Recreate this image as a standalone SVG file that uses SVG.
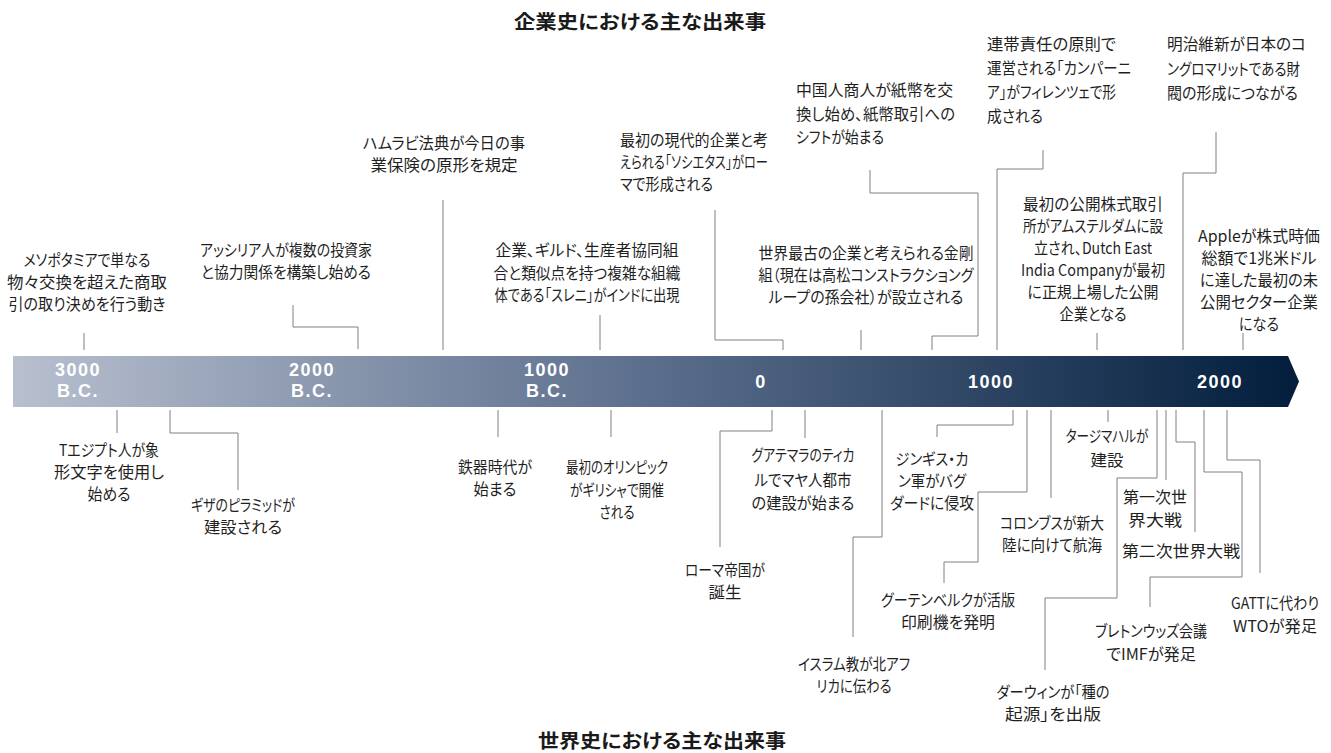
<svg xmlns="http://www.w3.org/2000/svg" width="1331" height="753" viewBox="0 0 1331 753">
<defs>
<linearGradient id="barGrad" gradientUnits="userSpaceOnUse" x1="13" y1="0" x2="1299" y2="0">
<stop offset="0" stop-color="#B8C0CF"/>
<stop offset="0.5" stop-color="#5A6D8C"/>
<stop offset="1" stop-color="#021E3C"/>
</linearGradient>
<style>
.t{font-family:"Noto Sans CJK JP","Noto Sans",sans-serif;font-size:16px;fill:#1f1f1f;font-feature-settings:"palt" 1;}
.m{text-anchor:middle;}
.ttl{font-family:"Noto Sans CJK JP","Noto Sans",sans-serif;font-size:19px;font-weight:bold;fill:#1a1a1a;text-anchor:middle;font-feature-settings:"palt" 1;}
.yr{font-family:"Liberation Sans",Arial,sans-serif;font-size:18px;font-weight:bold;fill:#ffffff;text-anchor:middle;letter-spacing:1.5px;}
.c{fill:none;stroke:#808080;stroke-width:1;}
</style>
</defs>
<rect x="0" y="0" width="1331" height="753" fill="#ffffff"/>

<g id="titles">
<text class="ttl" x="640" y="29" textLength="252" lengthAdjust="spacingAndGlyphs">企業史における主な出来事</text>
<text class="ttl" x="662" y="748" textLength="248" lengthAdjust="spacingAndGlyphs">世界史における主な出来事</text>
</g>

<g id="timeline-bar">
<path d="M13,356 H1288 L1299,381.5 L1288,407 H13 Z" fill="url(#barGrad)"/>
<text class="yr"><tspan x="78" y="376">3000</tspan><tspan x="78" y="396.5">B.C.</tspan></text>
<text class="yr"><tspan x="312" y="376">2000</tspan><tspan x="312" y="396.5">B.C.</tspan></text>
<text class="yr"><tspan x="547" y="376">1000</tspan><tspan x="547" y="396.5">B.C.</tspan></text>
<text class="yr" x="761" y="388">0</text>
<text class="yr" x="991" y="388">1000</text>
<text class="yr" x="1220" y="388">2000</text>
</g>

<g id="connectors">
<polyline class="c" points="84,333 84,350"/>
<polyline class="c" points="293,305 293,327 358,327 358,349"/>
<polyline class="c" points="443,200 443,350"/>
<polyline class="c" points="600,315 600,350"/>
<polyline class="c" points="715,210 715,340 783,340 783,350"/>
<polyline class="c" points="861,330 861,350"/>
<polyline class="c" points="870,170 870,193 978,193 978,336 932,336 932,350"/>
<polyline class="c" points="1043,150 1043,169 997,169 997,350"/>
<polyline class="c" points="1097,333 1097,350"/>
<polyline class="c" points="1216,132 1216,173 1183,173 1183,350"/>
<polyline class="c" points="1243,333 1243,350"/>

<polyline class="c" points="117,410 117,433"/>
<polyline class="c" points="170,410 170,433 238,433 238,490"/>
<polyline class="c" points="498,410 498,437"/>
<polyline class="c" points="611,410 611,437"/>
<polyline class="c" points="772,410 772,431 720,431 720,547"/>
<polyline class="c" points="805,410 805,438"/>
<polyline class="c" points="882,410 882,537 853,537 853,637"/>
<polyline class="c" points="1013,410 1013,425 937,425 937,437"/>
<polyline class="c" points="1027,410 1027,492 978,492 978,562 944,562 944,583"/>
<polyline class="c" points="1051,410 1051,498"/>
<polyline class="c" points="1108,410 1108,422"/>
<polyline class="c" points="1157,410 1157,478 1117,478 1117,598 1045,598 1045,670"/>
<polyline class="c" points="1166,410 1166,480"/>
<polyline class="c" points="1176,410 1176,442 1195,442 1195,532"/>
<polyline class="c" points="1204,410 1204,472 1242,472 1242,577 1150,577 1150,607"/>
<polyline class="c" points="1227,410 1227,460 1260,460 1260,573"/>
</g>

<g id="ev-mesopotamia"><text class="t m"><tspan x="87" y="266" textLength="127" lengthAdjust="spacingAndGlyphs">メソポタミアで単なる</tspan><tspan x="87" y="288" textLength="160" lengthAdjust="spacingAndGlyphs">物々交換を超えた商取</tspan><tspan x="87" y="310" textLength="157" lengthAdjust="spacingAndGlyphs">引の取り決めを行う動き</tspan></text></g>
<g id="ev-assyria"><text class="t m"><tspan x="286" y="256" textLength="172" lengthAdjust="spacingAndGlyphs">アッシリア人が複数の投資家</tspan><tspan x="286" y="278" textLength="170" lengthAdjust="spacingAndGlyphs">と協力関係を構築し始める</tspan></text></g>
<g id="ev-hammurabi"><text class="t m"><tspan x="444" y="149" textLength="162" lengthAdjust="spacingAndGlyphs">ハムラビ法典が今日の事</tspan><tspan x="444" y="171" textLength="147" lengthAdjust="spacingAndGlyphs">業保険の原形を規定</tspan></text></g>
<g id="ev-societas"><text class="t"><tspan x="620" y="146" textLength="148" lengthAdjust="spacingAndGlyphs">最初の現代的企業と考</tspan><tspan x="620" y="168" textLength="148" lengthAdjust="spacingAndGlyphs">えられる「ソシエタス」がロー</tspan><tspan x="620" y="190" textLength="93" lengthAdjust="spacingAndGlyphs">マで形成される</tspan></text></g>
<g id="ev-sreni"><text class="t m"><tspan x="587" y="256" textLength="183" lengthAdjust="spacingAndGlyphs">企業、ギルド、生産者協同組</tspan><tspan x="587" y="279" textLength="187" lengthAdjust="spacingAndGlyphs">合と類似点を持つ複雑な組織</tspan><tspan x="587" y="301" textLength="185" lengthAdjust="spacingAndGlyphs">体である「スレニ」がインドに出現</tspan></text></g>
<g id="ev-kongogumi"><text class="t m"><tspan x="866" y="259" textLength="215" lengthAdjust="spacingAndGlyphs">世界最古の企業と考えられる金剛</tspan><tspan x="866" y="281" textLength="215" lengthAdjust="spacingAndGlyphs">組（現在は高松コンストラクショング</tspan><tspan x="866" y="303" textLength="195" lengthAdjust="spacingAndGlyphs">ループの孫会社）が設立される</tspan></text></g>
<g id="ev-papermoney"><text class="t"><tspan x="796" y="96" textLength="157" lengthAdjust="spacingAndGlyphs">中国人商人が紙幣を交</tspan><tspan x="796" y="120" textLength="159" lengthAdjust="spacingAndGlyphs">換し始め、紙幣取引への</tspan><tspan x="796" y="143" textLength="88" lengthAdjust="spacingAndGlyphs">シフトが始まる</tspan></text></g>
<g id="ev-compagnia"><text class="t"><tspan x="987" y="50" textLength="129" lengthAdjust="spacingAndGlyphs">連帯責任の原則で</tspan><tspan x="987" y="74" textLength="144" lengthAdjust="spacingAndGlyphs">運営される「カンパーニ</tspan><tspan x="987" y="98" textLength="129" lengthAdjust="spacingAndGlyphs">ア」がフィレンツェで形</tspan><tspan x="987" y="122" textLength="56" lengthAdjust="spacingAndGlyphs">成される</tspan></text></g>
<g id="ev-meiji"><text class="t"><tspan x="1167" y="50" textLength="139" lengthAdjust="spacingAndGlyphs">明治維新が日本のコ</tspan><tspan x="1167" y="75" textLength="133" lengthAdjust="spacingAndGlyphs">ングロマリットである財</tspan><tspan x="1167" y="99" textLength="131" lengthAdjust="spacingAndGlyphs">閥の形成につながる</tspan></text></g>
<g id="ev-amsterdam"><text class="t m"><tspan x="1093" y="210" textLength="140" lengthAdjust="spacingAndGlyphs">最初の公開株式取引</tspan><tspan x="1093" y="232" textLength="140" lengthAdjust="spacingAndGlyphs">所がアムステルダムに設</tspan><tspan x="1093" y="254" textLength="118" lengthAdjust="spacingAndGlyphs">立され、Dutch East</tspan><tspan x="1093" y="276" textLength="144" lengthAdjust="spacingAndGlyphs">India Companyが最初</tspan><tspan x="1093" y="298" textLength="131" lengthAdjust="spacingAndGlyphs">に正規上場した公開</tspan><tspan x="1093" y="320" textLength="67" lengthAdjust="spacingAndGlyphs">企業となる</tspan></text></g>
<g id="ev-apple"><text class="t m"><tspan x="1259" y="242" textLength="122" lengthAdjust="spacingAndGlyphs">Appleが株式時価</tspan><tspan x="1259" y="264" textLength="115" lengthAdjust="spacingAndGlyphs">総額で1兆米ドル</tspan><tspan x="1259" y="286" textLength="118" lengthAdjust="spacingAndGlyphs">に達した最初の未</tspan><tspan x="1259" y="308" textLength="118" lengthAdjust="spacingAndGlyphs">公開セクター企業</tspan><tspan x="1259" y="330" textLength="40" lengthAdjust="spacingAndGlyphs">になる</tspan></text></g>

<g id="ev-egypt"><text class="t m"><tspan x="109" y="456" textLength="100" lengthAdjust="spacingAndGlyphs">Tエジプト人が象</tspan><tspan x="109" y="478" textLength="110" lengthAdjust="spacingAndGlyphs">形文字を使用し</tspan><tspan x="109" y="500" textLength="43" lengthAdjust="spacingAndGlyphs">始める</tspan></text></g>
<g id="ev-giza"><text class="t m"><tspan x="243" y="511" textLength="104" lengthAdjust="spacingAndGlyphs">ギザのピラミッドが</tspan><tspan x="243" y="533" textLength="78" lengthAdjust="spacingAndGlyphs">建設される</tspan></text></g>
<g id="ev-iron"><text class="t m"><tspan x="495" y="473" textLength="74" lengthAdjust="spacingAndGlyphs">鉄器時代が</tspan><tspan x="495" y="495" textLength="43" lengthAdjust="spacingAndGlyphs">始まる</tspan></text></g>
<g id="ev-olympics"><text class="t m"><tspan x="617" y="473" textLength="102" lengthAdjust="spacingAndGlyphs">最初のオリンピック</tspan><tspan x="617" y="496" textLength="94" lengthAdjust="spacingAndGlyphs">がギリシャで開催</tspan><tspan x="617" y="518" textLength="35" lengthAdjust="spacingAndGlyphs">される</tspan></text></g>
<g id="ev-rome"><text class="t m"><tspan x="725" y="576" textLength="80" lengthAdjust="spacingAndGlyphs">ローマ帝国が</tspan><tspan x="725" y="598" textLength="33" lengthAdjust="spacingAndGlyphs">誕生</tspan></text></g>
<g id="ev-tikal"><text class="t m"><tspan x="803" y="461" textLength="103" lengthAdjust="spacingAndGlyphs">グアテマラのティカ</tspan><tspan x="803" y="486" textLength="97" lengthAdjust="spacingAndGlyphs">ルでマヤ人都市</tspan><tspan x="803" y="509" textLength="103" lengthAdjust="spacingAndGlyphs">の建設が始まる</tspan></text></g>
<g id="ev-islam"><text class="t m"><tspan x="854" y="670" textLength="112" lengthAdjust="spacingAndGlyphs">イスラム教が北アフ</tspan><tspan x="854" y="692" textLength="75" lengthAdjust="spacingAndGlyphs">リカに伝わる</tspan></text></g>
<g id="ev-genghis"><text class="t m"><tspan x="932" y="465" textLength="73" lengthAdjust="spacingAndGlyphs">ジンギス・カ</tspan><tspan x="932" y="487" textLength="68" lengthAdjust="spacingAndGlyphs">ン軍がバグ</tspan><tspan x="932" y="509" textLength="84" lengthAdjust="spacingAndGlyphs">ダードに侵攻</tspan></text></g>
<g id="ev-gutenberg"><text class="t m"><tspan x="948" y="606" textLength="134" lengthAdjust="spacingAndGlyphs">グーテンベルクが活版</tspan><tspan x="948" y="628" textLength="94" lengthAdjust="spacingAndGlyphs">印刷機を発明</tspan></text></g>
<g id="ev-columbus"><text class="t m"><tspan x="1052" y="529" textLength="104" lengthAdjust="spacingAndGlyphs">コロンブスが新大</tspan><tspan x="1052" y="551" textLength="100" lengthAdjust="spacingAndGlyphs">陸に向けて航海</tspan></text></g>
<g id="ev-tajmahal"><text class="t m"><tspan x="1107" y="442" textLength="83" lengthAdjust="spacingAndGlyphs">タージマハルが</tspan><tspan x="1107" y="466" textLength="33" lengthAdjust="spacingAndGlyphs">建設</tspan></text></g>
<g id="ev-ww1"><text class="t m"><tspan x="1155" y="503" textLength="64" lengthAdjust="spacingAndGlyphs">第一次世</tspan><tspan x="1155" y="526" textLength="54" lengthAdjust="spacingAndGlyphs">界大戦</tspan></text></g>
<g id="ev-ww2"><text class="t m" x="1181" y="557" textLength="118" lengthAdjust="spacingAndGlyphs">第二次世界大戦</text></g>
<g id="ev-darwin"><text class="t m"><tspan x="1053" y="698" textLength="113" lengthAdjust="spacingAndGlyphs">ダーウィンが「種の</tspan><tspan x="1053" y="720" textLength="96" lengthAdjust="spacingAndGlyphs">起源」を出版</tspan></text></g>
<g id="ev-brettonwoods"><text class="t m"><tspan x="1151" y="637" textLength="112" lengthAdjust="spacingAndGlyphs">ブレトンウッズ会議</tspan><tspan x="1151" y="660" textLength="90" lengthAdjust="spacingAndGlyphs">でIMFが発足</tspan></text></g>
<g id="ev-wto"><text class="t m"><tspan x="1275" y="609" textLength="88" lengthAdjust="spacingAndGlyphs">GATTに代わり</tspan><tspan x="1275" y="632" textLength="84" lengthAdjust="spacingAndGlyphs">WTOが発足</tspan></text></g>
</svg>
